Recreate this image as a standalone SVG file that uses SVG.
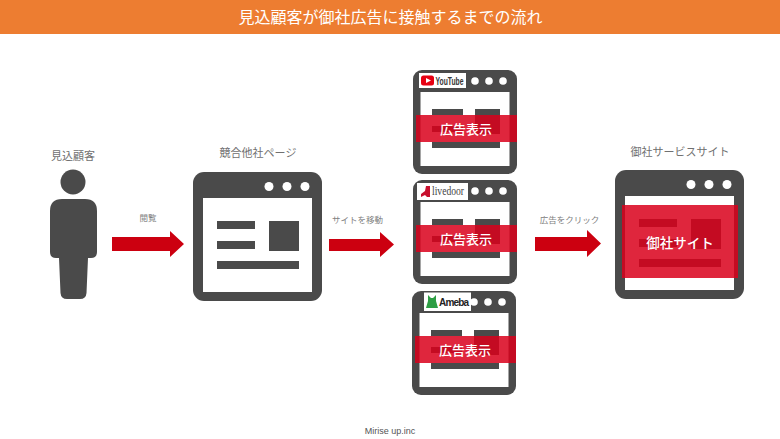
<svg xmlns="http://www.w3.org/2000/svg" xmlns:xlink="http://www.w3.org/1999/xlink" width="780" height="439" viewBox="0 0 780 439">
<style>
text{font-family:"Noto Sans CJK JP","Liberation Sans",sans-serif;text-anchor:middle}
.dark{fill:#4a4a4a}
.white{fill:#fff}
.arrow{fill:#cc0010}
.band{fill:#d9001b;fill-opacity:.85}
.label{fill:#707070;font-size:11px}
.small{fill:#808080;font-size:8.500px}
.ad{fill:#fff;font-size:13px;font-weight:500}
</style>
<defs>
<g id="bigwin">
<rect class="dark" x="0" y="0" width="129" height="129" rx="11"/>
<rect class="white" x="10" y="26" width="109" height="94"/>
<circle class="white" cx="76" cy="14.500" r="4.500"/><circle class="white" cx="94" cy="14.500" r="4.500"/><circle class="white" cx="112" cy="14.500" r="4.500"/>
<rect class="dark" x="24" y="49" width="38" height="8"/><rect class="dark" x="24" y="69" width="38" height="8"/><rect class="dark" x="24" y="89" width="82" height="8"/><rect class="dark" x="76" y="49" width="30" height="30"/>
</g>
<g id="smallwin">
<rect class="dark" x="0" y="0" width="104" height="104" rx="9"/>
<rect class="white" x="7.500" y="22" width="89" height="74"/>
<circle class="white" cx="62" cy="11" r="3.800"/><circle class="white" cx="76" cy="11" r="3.800"/><circle class="white" cx="90" cy="11" r="3.800"/>
<rect class="dark" x="19" y="39" width="31" height="6"/><rect class="dark" x="19" y="56" width="31" height="6"/><rect class="dark" x="62" y="39" width="25" height="25"/><rect class="dark" x="19" y="72" width="68" height="6"/>
<rect class="band" x="3" y="45" width="101" height="27"/>
<text class="ad" x="53" y="64">広告表示</text>
</g>
</defs>
<rect id="header" x="0" y="0" width="780" height="34" fill="#ed7d31"/>
<text x="390.500" y="23" fill="#fff" font-size="16px">見込顧客が御社広告に接触するまでの流れ</text>

<g id="connectors">
<path class="arrow" d="M112 237H170V231L184 244L170 257V251H112Z"/>
<path class="arrow" d="M329 239H380V232L394 244.500L380 257V251H329Z"/>
<path class="arrow" d="M535 237H587V230L601 243.500L587 257V251H535Z"/>
<text class="small" x="148" y="221">閲覧</text>
<text class="small" x="357.500" y="223">サイトを移動</text>
<text class="small" x="569.500" y="223">広告をクリック</text>
</g>

<g id="customer">
<text class="label" x="73" y="160">見込顧客</text>
<circle class="dark" cx="73" cy="182" r="12.500"/>
<path class="dark" d="M62 199H85Q97 199 97 211V252Q97 258 91 258H88L86.500 293Q86 299 80 299H67Q61 299 60.500 293L59 258H56Q50 258 50 252V211Q50 199 62 199Z"/>
</g>

<g id="competitor">
<text class="label" x="258" y="157">競合他社ページ</text>
<use xlink:href="#bigwin" x="193" y="172"/>
</g>

<g id="youtube">
<use xlink:href="#smallwin" x="413" y="70"/>
<rect class="white" x="419" y="73" width="47" height="15"/>
<rect x="421" y="75.500" width="13" height="10" rx="2.500" fill="#e60012"/>
<path class="white" d="M426 78L431 80.500L426 83Z"/>
<text x="449.500" y="84.500" font-size="10.500" font-weight="700" fill="#333" style="font-family:'Liberation Sans',sans-serif" textLength="28" lengthAdjust="spacingAndGlyphs">YouTube</text>
</g>

<g id="livedoor">
<use xlink:href="#smallwin" x="413" y="180"/>
<rect class="white" x="417" y="183" width="51" height="17"/>
<path d="M421 197V194L425 191L426 186H430V197H427L425 195Z" fill="#c8102e"/>
<text x="448" y="195" font-size="11.500" fill="#444" style="font-family:'Liberation Serif',serif" textLength="32" lengthAdjust="spacingAndGlyphs">livedoor</text>
</g>

<g id="ameba">
<use xlink:href="#smallwin" x="412" y="291"/>
<rect class="white" x="424" y="292.500" width="47" height="18.500"/>
<path d="M426 308L428 301V295L431 298H433L436 295V301L438 308Z" fill="#2e9e44"/>
<text x="454" y="306" font-size="10" font-weight="700" fill="#222" style="font-family:'Liberation Sans',sans-serif" textLength="30" lengthAdjust="spacing">Ameba</text>
</g>

<g id="own-site">
<text class="label" x="680" y="156">御社サービスサイト</text>
<use xlink:href="#bigwin" x="615" y="170"/>
<rect class="band" x="622" y="205" width="116" height="73"/>
<text x="680" y="248" fill="#fff" font-size="13.500" font-weight="500">御社サイト</text>
</g>

<text id="footer" x="390" y="434" fill="#555" font-size="9" style="font-family:'Liberation Sans',sans-serif">Mirise up.inc</text>
</svg>
